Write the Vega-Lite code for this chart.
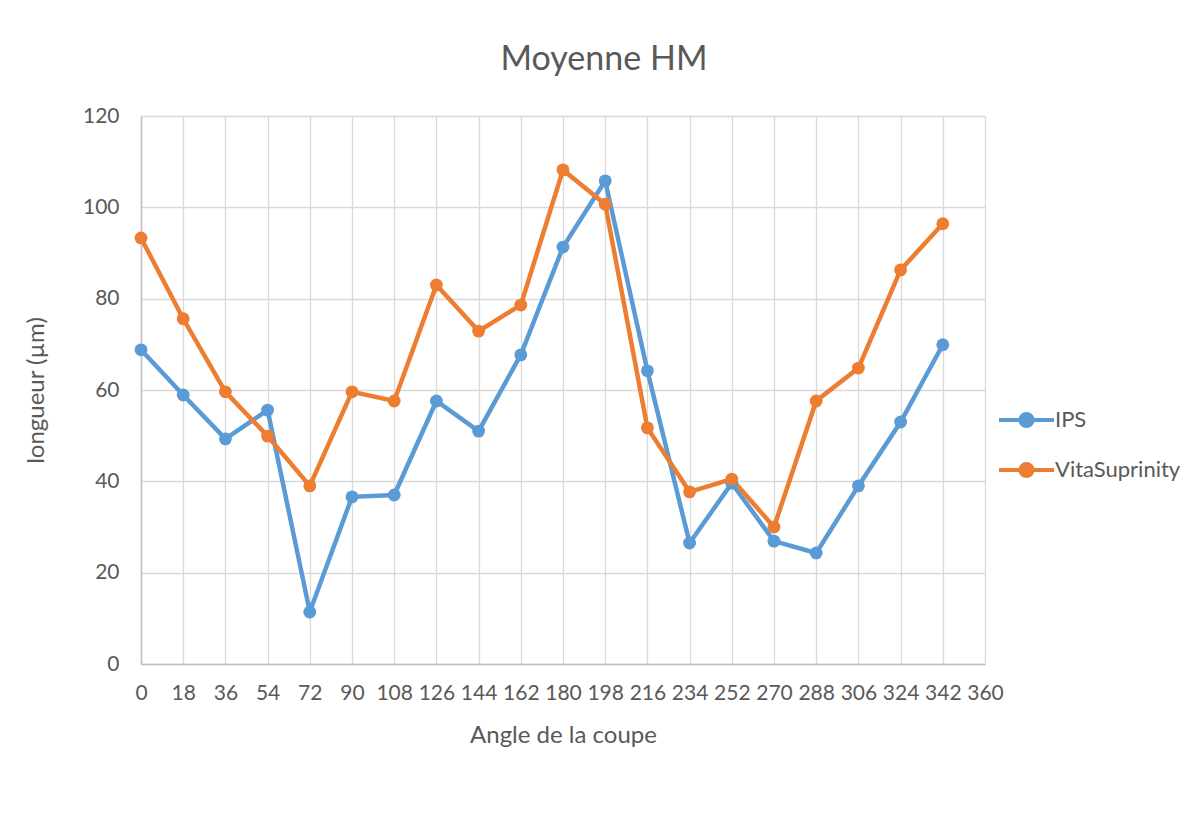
{
  "$schema": "https://vega.github.io/schema/vega-lite/v6.json",
  "width": 844,
  "height": 548,
  "autosize": {"type": "none"},
  "padding": {"left": 141, "top": 116, "right": 211, "bottom": 155},
  "background": "white",
  "title": {
    "text": "Moyenne HM",
    "fontSize": 34,
    "font": "Lato",
    "fontWeight": "normal",
    "color": "#595959",
    "anchor": "middle",
    "dx": 41,
    "offset": 28
  },
  "config": {
    "font": "Lato",
    "view": {"stroke": null},
    "axis": {
      "labelColor": "#595959",
      "titleColor": "#595959",
      "labelFontSize": 21,
      "titleFontSize": 24,
      "titleFontWeight": "normal",
      "gridColor": "#D9D9D9",
      "gridWidth": 1.3,
      "gridOpacity": 1,
      "domainColor": "#BFBFBF",
      "domainWidth": 1.5,
      "ticks": false
    }
  },
  "data": {
    "values": [
      {"angle": 0, "serie": "IPS", "longueur": 68.8},
      {"angle": 18, "serie": "IPS", "longueur": 58.9},
      {"angle": 36, "serie": "IPS", "longueur": 49.3},
      {"angle": 54, "serie": "IPS", "longueur": 55.6},
      {"angle": 72, "serie": "IPS", "longueur": 11.4},
      {"angle": 90, "serie": "IPS", "longueur": 36.6},
      {"angle": 108, "serie": "IPS", "longueur": 37.0},
      {"angle": 126, "serie": "IPS", "longueur": 57.6},
      {"angle": 144, "serie": "IPS", "longueur": 51.0},
      {"angle": 162, "serie": "IPS", "longueur": 67.7},
      {"angle": 180, "serie": "IPS", "longueur": 91.3},
      {"angle": 198, "serie": "IPS", "longueur": 105.8},
      {"angle": 216, "serie": "IPS", "longueur": 64.2},
      {"angle": 234, "serie": "IPS", "longueur": 26.5},
      {"angle": 252, "serie": "IPS", "longueur": 39.6},
      {"angle": 270, "serie": "IPS", "longueur": 26.9},
      {"angle": 288, "serie": "IPS", "longueur": 24.3},
      {"angle": 306, "serie": "IPS", "longueur": 39.0},
      {"angle": 324, "serie": "IPS", "longueur": 53.0},
      {"angle": 342, "serie": "IPS", "longueur": 69.9},
      {"angle": 0, "serie": "VitaSuprinity", "longueur": 93.3},
      {"angle": 18, "serie": "VitaSuprinity", "longueur": 75.6},
      {"angle": 36, "serie": "VitaSuprinity", "longueur": 59.6},
      {"angle": 54, "serie": "VitaSuprinity", "longueur": 49.9},
      {"angle": 72, "serie": "VitaSuprinity", "longueur": 39.0},
      {"angle": 90, "serie": "VitaSuprinity", "longueur": 59.6},
      {"angle": 108, "serie": "VitaSuprinity", "longueur": 57.6},
      {"angle": 126, "serie": "VitaSuprinity", "longueur": 83.0},
      {"angle": 144, "serie": "VitaSuprinity", "longueur": 72.9},
      {"angle": 162, "serie": "VitaSuprinity", "longueur": 78.6},
      {"angle": 180, "serie": "VitaSuprinity", "longueur": 108.2},
      {"angle": 198, "serie": "VitaSuprinity", "longueur": 100.7},
      {"angle": 216, "serie": "VitaSuprinity", "longueur": 51.7},
      {"angle": 234, "serie": "VitaSuprinity", "longueur": 37.7},
      {"angle": 252, "serie": "VitaSuprinity", "longueur": 40.5},
      {"angle": 270, "serie": "VitaSuprinity", "longueur": 30.0},
      {"angle": 288, "serie": "VitaSuprinity", "longueur": 57.6},
      {"angle": 306, "serie": "VitaSuprinity", "longueur": 64.8},
      {"angle": 324, "serie": "VitaSuprinity", "longueur": 86.3},
      {"angle": 342, "serie": "VitaSuprinity", "longueur": 96.4}
    ]
  },
  "mark": {
    "type": "line",
    "strokeWidth": 4.5,
    "point": {"filled": true, "size": 165, "opacity": 1}
  },
  "encoding": {
    "x": {
      "field": "angle",
      "type": "quantitative",
      "scale": {"domain": [0, 360], "nice": false, "zero": false},
      "axis": {
        "values": [0, 18, 36, 54, 72, 90, 108, 126, 144, 162, 180, 198, 216, 234, 252, 270, 288, 306, 324, 342, 360],
        "title": "Angle de la coupe",
        "labelPadding": 18,
        "titlePadding": 20,
        "labelFlush": false,
        "labelOverlap": false
      }
    },
    "y": {
      "field": "longueur",
      "type": "quantitative",
      "scale": {"domain": [0, 120], "nice": false},
      "axis": {
        "values": [0, 20, 40, 60, 80, 100, 120],
        "title": "longueur (µm)",
        "labelPadding": 22,
        "titlePadding": 34,
        "labelFlush": false
      }
    },
    "color": {
      "field": "serie",
      "type": "nominal",
      "scale": {"domain": ["IPS", "VitaSuprinity"], "range": ["#5B9BD5", "#ED7D31"]},
      "legend": {
        "title": null,
        "orient": "none",
        "legendX": 872.5,
        "legendY": 291,
        "padding": 0,
        "symbolType": "M-2.5,0H2.5M-0.55,0A0.55,0.55 0 1,0 0.55,0A0.55,0.55 0 1,0 -0.55,0Z",
        "symbolSize": 484,
        "symbolStrokeWidth": 4,
        "labelOffset": 15.5,
        "labelFontSize": 22,
        "labelColor": "#595959",
        "rowPadding": 20,
        "encode": {
          "symbols": {"update": {"fill": {"scale": "color", "field": "value"}, "stroke": {"scale": "color", "field": "value"}, "opacity": {"value": 1}}}
        }
      }
    }
  }
}
